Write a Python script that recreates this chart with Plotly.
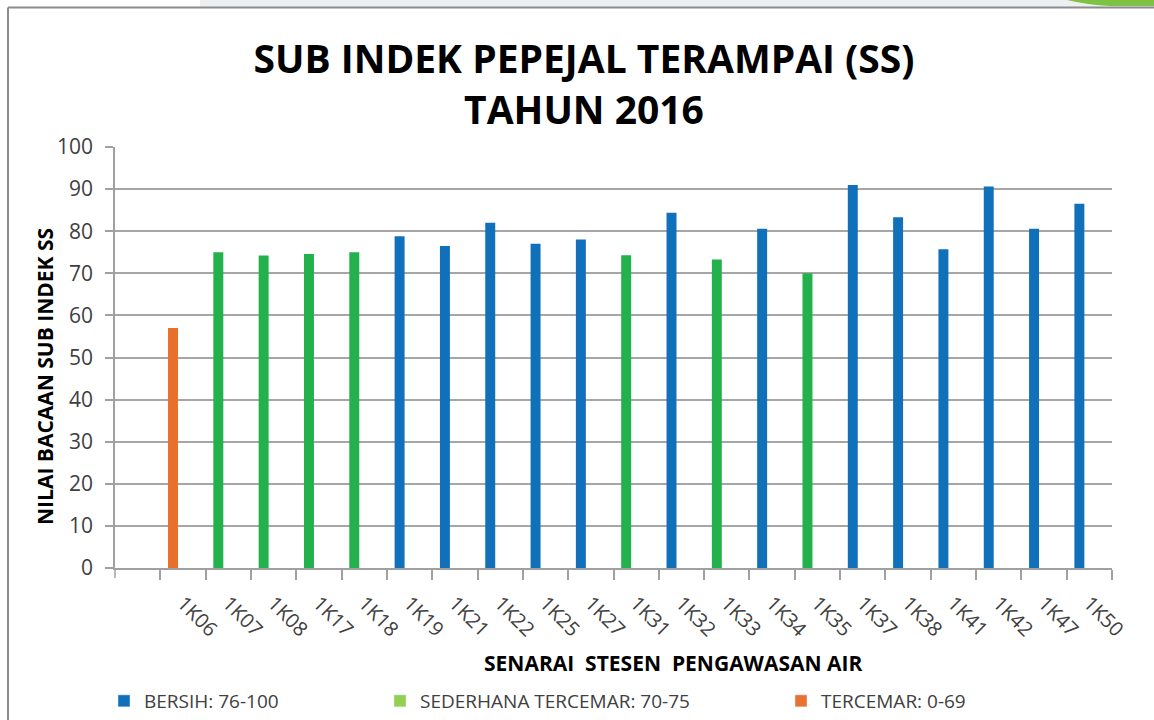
import plotly.graph_objects as go

stations = ["1K06", "1K07", "1K08", "1K17", "1K18", "1K19", "1K21", "1K22", "1K25", "1K27",
            "1K31", "1K32", "1K33", "1K34", "1K35", "1K37", "1K38", "1K41", "1K42", "1K47", "1K50"]
values = [57.0, 75.0, 74.2, 74.6, 75.0, 78.8, 76.5, 82.0, 77.0, 78.0,
          74.3, 84.4, 73.3, 80.6, 70.0, 91.0, 83.3, 75.7, 90.6, 80.6, 86.5]
status = ["T", "S", "S", "S", "S", "B", "B", "B", "B", "B",
          "S", "B", "S", "B", "S", "B", "B", "B", "B", "B", "B"]

legend_names = {"B": "BERSIH: 76-100", "S": "SEDERHANA TERCEMAR: 70-75", "T": "TERCEMAR: 0-69"}
bar_colors = {"B": "#1170BA", "S": "#22B14C", "T": "#E8702A"}
legend_colors = {"B": "#1170BA", "S": "#92D050", "T": "#E97132"}

W, H = 1154, 720
L, R, T, B = 115, 42, 147, 152
PW, PH = W - L - R, H - T - B


def px(x):
    return (x - L) / PW


def py(y):
    return (H - B - y) / PH


fig = go.Figure()
fig.add_trace(go.Bar(
    x=stations, y=values,
    marker=dict(color=[bar_colors[s] for s in status], line=dict(width=0)),
    width=0.22, offset=-0.33, showlegend=False, hoverinfo="x+y",
))

legend_keys = ["legend", "legend2", "legend3"]
for key, lg in zip(["B", "S", "T"], legend_keys):
    fig.add_trace(go.Bar(x=[None], y=[None], name=legend_names[key],
                         marker=dict(color=legend_colors[key]), legend=lg))

legend_font = dict(family="Open Sans", size=19, color="#404040")
legend_common = dict(orientation="h", yanchor="middle", y=py(701), xanchor="left",
                     font=legend_font, bgcolor="rgba(0,0,0,0)", itemwidth=30)

shapes = [
    dict(type="rect", xref="paper", yref="paper", x0=px(200), x1=px(1154), y0=py(0), y1=py(7),
         fillcolor="#EEEFF1", line=dict(width=0), layer="below"),
    dict(type="path", xref="paper", yref="paper",
         path=f"M {px(1067)},{py(0)} L {px(1154)},{py(0)} L {px(1154)},{py(6)} L {px(1110)},{py(6)} "
              f"Q {px(1088)},{py(5)} {px(1067)},{py(0)} Z",
         fillcolor="#7DC242", line=dict(width=0)),
    dict(type="line", xref="paper", yref="paper", x0=px(8), x1=px(1154), y0=py(7.5), y1=py(7.5),
         line=dict(color="#8C8C8C", width=2)),
    dict(type="line", xref="paper", yref="paper", x0=px(8), x1=px(8), y0=py(7.5), y1=py(720),
         line=dict(color="#8C8C8C", width=2)),
    # first category-boundary tick (empty leading slot)
    dict(type="line", xref="paper", yref="paper", x0=0, x1=0, y0=0, y1=py(578),
         line=dict(color="#A0A0A0", width=1.5)),
]

fig.update_layout(
    width=W, height=H,
    margin=dict(l=L, r=R, t=T, b=B, autoexpand=False),
    paper_bgcolor="white", plot_bgcolor="white",
    barmode="overlay",
    title=dict(text="SUB INDEK PEPEJAL TERAMPAI (SS)<br>TAHUN 2016",
               x=584 / W, xanchor="center", y=1 - 73 / H, yanchor="middle",
               font=dict(family="Open Sans", size=39, color="black", weight="bold")),
    legend=dict(x=px(104), **legend_common),
    legend2=dict(x=px(380), **legend_common),
    legend3=dict(x=px(781), **legend_common),
    shapes=shapes,
    annotations=[
        dict(text="SENARAI  STESEN  PENGAWASAN AIR", xref="paper", yref="paper",
             x=px(673), y=py(663), showarrow=False, xanchor="center", yanchor="middle",
             font=dict(family="Open Sans", size=21, color="black", weight="bold")),
        dict(text="NILAI BACAAN SUB INDEK SS", xref="paper", yref="paper",
             x=px(45), y=py(377), showarrow=False, textangle=-90, xanchor="center", yanchor="middle",
             font=dict(family="Open Sans", size=21, color="black", weight="bold")),
    ],
    xaxis=dict(type="category", range=[-1.5, 20.5], tickson="boundaries", automargin=False,
               ticks="outside", ticklen=10, tickcolor="#A0A0A0", tickwidth=1.5,
               showline=True, linecolor="#A0A0A0", linewidth=1.5, showgrid=False,
               ticklabelstandoff=14,
               tickangle=45, tickfont=dict(family="Open Sans", size=20, color="#404040")),
    yaxis=dict(range=[0, 100], dtick=10, ticks="outside", ticklen=8, tickcolor="#A0A0A0", tickwidth=1.5,
               showline=True, linecolor="#A0A0A0", linewidth=1.5, showgrid=True, automargin=False,
               gridcolor="#A6A6A6", gridwidth=1.5, zeroline=False, ticklabelstandoff=8,
               tickfont=dict(family="Open Sans", size=21, color="#404040")),
)

fig.write_html("out.html", config={"displayModeBar": False},
               post_script="document.body.style.margin='0';document.body.style.overflow='hidden';")
